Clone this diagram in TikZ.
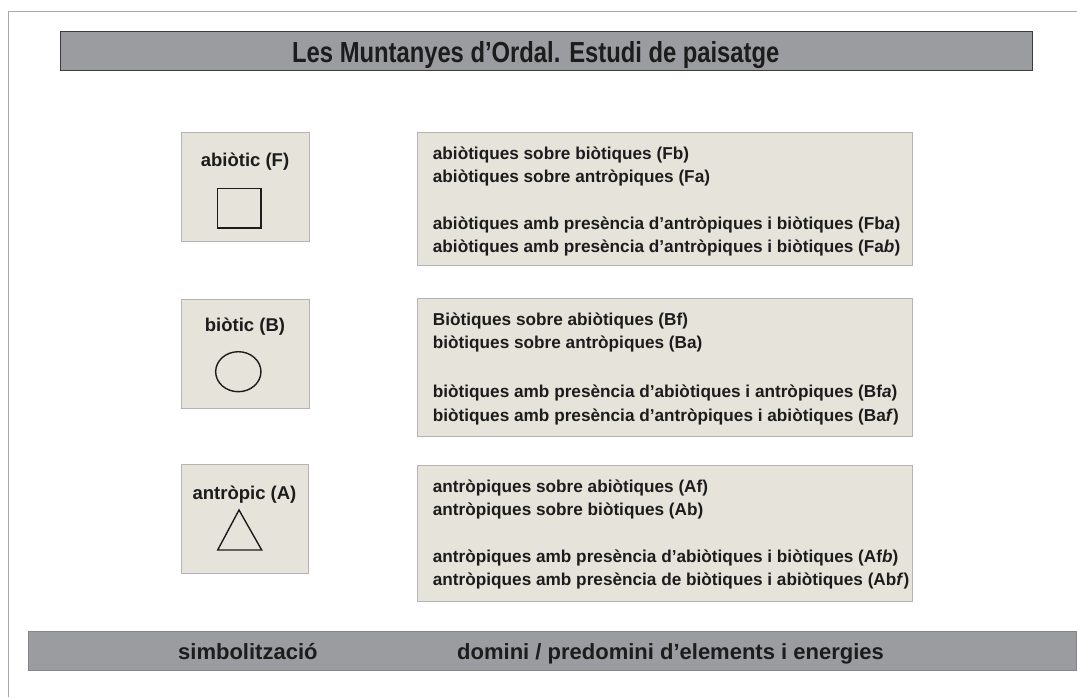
\documentclass[tikz,border=0pt]{standalone}
\usepackage{fontspec}
\usepackage{graphicx}
\setmainfont{Liberation Sans}
\usetikzlibrary{shapes.geometric}
\definecolor{barfill}{HTML}{9A9C9F}
\definecolor{barline}{HTML}{3C3C3C}
\definecolor{barline2}{HTML}{858585}
\definecolor{boxfill}{HTML}{E6E3DB}
\definecolor{boxline}{HTML}{B4B4B4}
\definecolor{frameline}{HTML}{A8A8A8}
\definecolor{ink}{HTML}{1C1C1C}
\tikzset{
  panel/.style={draw=boxline, fill=boxfill, line width=1pt, inner sep=0pt, anchor=north west},
  lbl/.style={anchor=base, inner sep=0pt, text=ink, font=\fontsize{18.5}{20}\selectfont\bfseries},
  txt/.style={anchor=base west, inner sep=0pt, text=ink, font=\fontsize{17.2}{20}\selectfont\bfseries},
  bartxt/.style={anchor=base west, inner sep=0pt, text=ink, font=\fontsize{22}{24}\selectfont\bfseries},
  sym/.style={draw=ink, line width=1.6pt, inner sep=0pt}
}
\begin{document}
\begin{tikzpicture}[x=1pt,y=-1pt]
\useasboundingbox (0,0) rectangle (1077,697);
\fill[white] (0,0) rectangle (1077,697);
% frame
\coordinate (fa) at (1077,11.3);
\coordinate (fb) at (8.3,11.3);
\coordinate (fc) at (8.3,697);
\draw[frameline, line width=1pt] (fa) -- (fb) -- (fc);
% title bar
\node[draw=barline, fill=barfill, line width=1.3pt, inner sep=0pt, anchor=north west,
  minimum width=972pt, minimum height=39pt] (title) at (60,31) {};
\node[anchor=base west, inner sep=0pt, text=ink] (titletxt) at (292,62.3)
  {\scalebox{0.82}[1]{\fontsize{29}{30}\selectfont\bfseries Les Muntanyes d’Ordal. Estudi de paisatge}};
% bottom bar
\node[draw=barline2, fill=barfill, line width=1pt, inner sep=0pt, anchor=north west,
  minimum width=1048pt, minimum height=39pt] (foot) at (28,631) {};
\node[bartxt] (foottxtA) at (178,659) {simbolització};
\node[bartxt] (foottxtB) at (457,659) {domini / predomini d’elements i energies};
% symbol panels
\node[panel, minimum width=128.6pt, minimum height=109pt] (pF) at (180.7,132) {};
\node[panel, minimum width=128.6pt, minimum height=108.4pt] (pB) at (180.7,299.3) {};
\node[panel, minimum width=127.6pt, minimum height=108.7pt] (pA) at (180.7,464) {};
\node[lbl] (lF) at (245,166) {abiòtic (F)};
\node[lbl] (lB) at (245,331.5) {biòtic (B)};
\node[lbl] (lA) at (244.5,499) {antròpic (A)};
\node[sym, rectangle, minimum width=43.4pt, minimum height=39.4pt] (sF) at (239,208) {};
\node[sym, ellipse, minimum width=45.3pt, minimum height=40pt, line width=1.4pt] (sB) at (238.3,371.7) {};
\coordinate (tA1) at (239,510);
\coordinate (tA2) at (261.7,550);
\coordinate (tA3) at (217.7,550);
\draw[ink, line width=1.4pt, line join=miter] (tA1) -- (tA2) -- (tA3) -- cycle;
% text panels
\node[panel, minimum width=495pt, minimum height=133pt] (tF) at (417,132) {};
\node[panel, minimum width=495pt, minimum height=138pt] (tB) at (417,298) {};
\node[panel, minimum width=495pt, minimum height=136pt] (tAp) at (417,465) {};
\node[txt] (f1) at (432.7,159) {abiòtiques sobre biòtiques (Fb)};
\node[txt] (f2) at (432.7,182) {abiòtiques sobre antròpiques (Fa)};
\node[txt] (f3) at (432.7,229.5) {abiòtiques amb presència d’antròpiques i biòtiques (Fb\textit{a})};
\node[txt] (f4) at (432.7,252.5) {abiòtiques amb presència d’antròpiques i biòtiques (Fa\textit{b})};
\node[txt] (b1) at (432.7,325) {Biòtiques sobre abiòtiques (Bf)};
\node[txt] (b2) at (432.7,348) {biòtiques sobre antròpiques (Ba)};
\node[txt] (b3) at (432.7,397) {biòtiques amb presència d’abiòtiques i antròpiques (Bf\textit{a})};
\node[txt] (b4) at (432.7,421) {biòtiques amb presència d’antròpiques i abiòtiques (Ba\textit{f})};
\node[txt] (a1) at (432.7,492) {antròpiques sobre abiòtiques (Af)};
\node[txt] (a2) at (432.7,515) {antròpiques sobre biòtiques (Ab)};
\node[txt] (a3) at (432.7,562) {antròpiques amb presència d’abiòtiques i biòtiques (Af\textit{b})};
\node[txt] (a4) at (432.7,585.5) {antròpiques amb presència de biòtiques i abiòtiques (Ab\textit{f})};
\end{tikzpicture}
\end{document}
